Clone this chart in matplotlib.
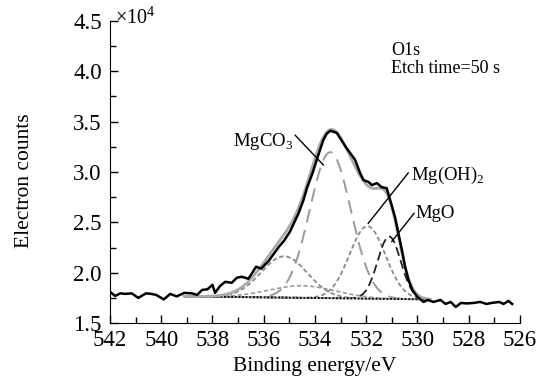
import numpy as np
import matplotlib
matplotlib.use("Agg")
import matplotlib.pyplot as plt
from matplotlib.ticker import MultipleLocator

plt.rcParams['font.family'] = ['Liberation Serif', 'DejaVu Serif']
plt.rcParams['mathtext.fontset'] = 'custom'
plt.rcParams['mathtext.rm'] = 'Liberation Serif'

# measured O1s spectrum (binding energy in eV, counts in 1e4)
energy = [542.0, 541.8, 541.6, 541.4, 541.15, 540.9, 540.6, 540.4, 540.2, 539.9,
          539.65, 539.4, 539.1, 538.8, 538.6, 538.4, 538.2, 538.0, 537.9, 537.7,
          537.5, 537.25, 537.05, 536.85, 536.6, 536.47, 536.3, 536.1, 535.8, 535.6,
          535.4, 535.2, 534.97, 534.77, 534.64, 534.45, 534.3, 534.1, 533.93, 533.8,
          533.67, 533.54, 533.4, 533.28, 533.15, 533.0, 532.8, 532.6, 532.43, 532.23,
          532.1, 531.9, 531.78, 531.58, 531.4, 531.2, 531.06, 530.87, 530.74, 530.6,
          530.48, 530.35, 530.2, 530.0, 529.76, 529.6, 529.37, 529.1, 528.9, 528.7,
          528.5, 528.3, 528.07, 527.8, 527.55, 527.3, 527.1, 526.8, 526.64, 526.44,
          526.3]
counts = [1.81, 1.77, 1.795, 1.79, 1.795, 1.75, 1.795, 1.79, 1.78, 1.735,
          1.79, 1.765, 1.80, 1.795, 1.78, 1.83, 1.835, 1.88, 1.80, 1.87,
          1.91, 1.90, 1.95, 1.96, 1.94, 1.99, 2.06, 2.04, 2.12, 2.19,
          2.26, 2.32, 2.41, 2.52, 2.59, 2.72, 2.85, 2.985, 3.12, 3.22,
          3.32, 3.38, 3.41, 3.40, 3.39, 3.33, 3.25, 3.18, 3.12, 2.985,
          2.92, 2.90, 2.87, 2.89, 2.85, 2.84, 2.72, 2.55, 2.39, 2.22,
          2.06, 1.93, 1.83, 1.76, 1.71, 1.73, 1.71, 1.73, 1.69, 1.71,
          1.66, 1.70, 1.695, 1.70, 1.71, 1.69, 1.70, 1.71, 1.69, 1.72,
          1.69]

# fitted components: centre, height above background, sigma
fit_range = (539.1, 529.5)
bg_ends = (1.765, 1.735)
peak_centres = [533.4, 535.2, 534.5, 531.95, 531.1]
peak_heights = [1.45, 0.41, 0.12, 0.72, 0.62]
peak_sigmas = [0.8, 0.9, 1.3, 0.7, 0.45]
peak_styles = [
    dict(color='#9a9a9a', dashes=(7, 4), lw=1.4),
    dict(color='#8a8a8a', dashes=(2.5, 1.5), lw=1.3),
    dict(color='#9a9a9a', dashes=(2.5, 1.5), lw=1.2),
    dict(color='#8a8a8a', dashes=(2.5, 1.5), lw=1.3),
    dict(color='#222222', dashes=(5, 2.5), lw=1.3),
]

fig = plt.figure(figsize=(5.53, 3.81), dpi=100)
ax = fig.add_axes([0.199, 0.152, 0.741, 0.793])

e = np.linspace(fit_range[0], fit_range[1], 400)
bg = np.interp(e, [fit_range[1], fit_range[0]], [bg_ends[1], bg_ends[0]])
env = bg.copy()
for c, h, s, st in zip(peak_centres, peak_heights, peak_sigmas, peak_styles):
    comp = h * np.exp(-(e - c) ** 2 / (2 * s ** 2))
    env += comp
    ax.plot(e, bg + comp, **st)
ax.plot(e, bg, color='#aaaaaa', lw=1.2)
ax.plot(e, bg, color='black', lw=1.3, dashes=(1, 1))
ax.plot(e, env, color='#aaaaaa', lw=2.0)
ax.plot(energy, counts, color='black', lw=1.8)

ax.set_xlim(542, 526)
ax.set_ylim(1.5, 4.5)
ax.xaxis.set_major_locator(MultipleLocator(2))
ax.xaxis.set_minor_locator(MultipleLocator(1))
ax.yaxis.set_major_locator(MultipleLocator(0.5))
ax.yaxis.set_minor_locator(MultipleLocator(0.25))
ax.yaxis.set_major_formatter(plt.FormatStrFormatter('%.1f'))
ax.tick_params(which='major', direction='in', length=6, width=1, labelsize=16.5)
ax.tick_params(axis='x', which='major', pad=5)
ax.tick_params(axis='y', which='major', pad=6)
ax.tick_params(which='minor', direction='in', length=4, width=1)
ax.spines['top'].set_visible(False)
ax.spines['right'].set_visible(False)

ax.set_xlabel('Binding energy/eV', fontsize=15.5)
ax.set_ylabel('Electron counts', fontsize=15.5)
ax.xaxis.set_label_coords(0.5, -0.112)
ax.yaxis.set_label_coords(-0.185, 0.47)
ax.text(0.012, 1.01, r'$\times$10$^4$', transform=ax.transAxes, fontsize=14.5, va='center', ha='left')

ax.text(531.02, 4.21, 'O1s', fontsize=13, va='center')
ax.text(531.02, 4.03, 'Etch time=50 s', fontsize=13, va='center')

ax.text(534.85, 3.30, r'MgCO$_3$', fontsize=13.5, va='center', ha='right')
ax.plot([534.77, 533.67], [3.365, 3.07], color='black', lw=1)
ax.text(530.24, 2.97, r'Mg(OH)$_2$', fontsize=13.5, va='center', ha='left')
ax.plot([530.36, 531.92], [2.99, 2.49], color='black', lw=1)
ax.text(530.09, 2.59, 'MgO', fontsize=13.5, va='center', ha='left')
ax.plot([530.13, 531.0], [2.59, 2.31], color='black', lw=1)

fig.savefig('out.png', dpi=100)
